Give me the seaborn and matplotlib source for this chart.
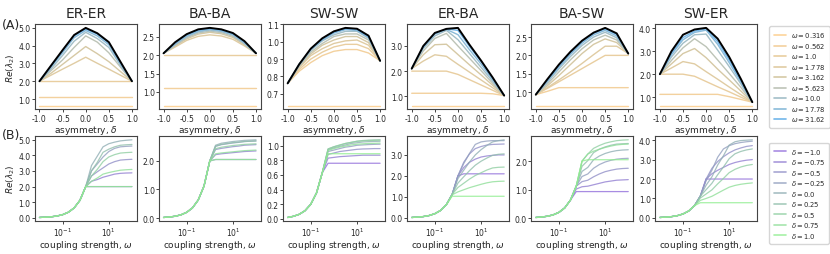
import matplotlib.pyplot as plt
import numpy as np
import pandas as pd
import seaborn as sns
from matplotlib.ticker import FormatStrFormatter, NullLocator, MultipleLocator

sns.set_theme(style="ticks")
plt.rcParams["font.family"] = ["DejaVu Sans"]

panels = ["ER-ER", "BA-BA", "SW-SW", "ER-BA", "BA-SW", "SW-ER"]
deltas = [-1.0, -0.75, -0.5, -0.25, 0.0, 0.25, 0.5, 0.75, 1.0]
omegas = [0.01, 0.0178, 0.0316, 0.0562, 0.1, 0.178, 0.316, 0.562, 1.0,
          1.778, 3.162, 5.623, 10.0, 17.78, 31.62, 56.23, 100.0]
omega_labels = ["0.316", "0.562", "1.0", "1.778", "3.162", "5.623", "10.0", "17.78", "31.62"]
top_steps = [1.0, 0.5, 0.1, 1.0, 0.5, 1.0]
bot_steps = [1.0, 1.0, 0.2, 1.0, 1.0, 1.0]

# small coupling: every delta gives the same value (omega <= 0.316)
rise = [0.02, 0.036, 0.063, 0.112, 0.2, 0.356, 0.632]

# rows: omega = 0.562 ... 100, columns: delta = -1 ... 1
er_er = [
    [1.12, 1.12, 1.12, 1.12, 1.12, 1.12, 1.12, 1.12, 1.12],
    [2.0, 2.0, 2.0, 2.0, 2.0, 2.0, 2.0, 2.0, 2.0],
    [2.0, 2.34, 2.68, 3.01, 3.35, 3.01, 2.68, 2.34, 2.0],
    [2.0, 2.45, 2.95, 3.45, 3.95, 3.55, 3.1, 2.55, 2.0],
    [2.0, 2.6, 3.2, 3.9, 4.55, 4.2, 3.6, 2.8, 2.0],
    [2.0, 2.7, 3.45, 4.25, 4.75, 4.4, 3.9, 2.9, 2.0],
    [2.0, 2.8, 3.6, 4.45, 4.85, 4.55, 4.05, 2.98, 2.0],
    [2.0, 2.85, 3.7, 4.55, 4.93, 4.65, 4.15, 3.05, 2.0],
    [2.0, 2.87, 3.73, 4.58, 4.97, 4.68, 4.18, 3.08, 2.0],
    [2.0, 2.88, 3.75, 4.6, 5.0, 4.7, 4.2, 3.1, 2.0],
]
ba_ba = [
    [1.12, 1.12, 1.12, 1.12, 1.12, 1.12, 1.12, 1.12, 1.12],
    [2.0, 2.0, 2.0, 2.0, 2.0, 2.0, 2.0, 2.0, 2.0],
    [2.05, 2.22, 2.4, 2.51, 2.55, 2.52, 2.43, 2.25, 2.05],
    [2.05, 2.25, 2.44, 2.57, 2.62, 2.58, 2.48, 2.28, 2.05],
    [2.05, 2.27, 2.47, 2.6, 2.65, 2.61, 2.51, 2.3, 2.05],
    [2.05, 2.29, 2.5, 2.63, 2.68, 2.64, 2.54, 2.32, 2.05],
    [2.05, 2.31, 2.52, 2.65, 2.7, 2.66, 2.56, 2.34, 2.05],
    [2.05, 2.33, 2.55, 2.68, 2.72, 2.68, 2.58, 2.36, 2.05],
    [2.05, 2.34, 2.56, 2.69, 2.73, 2.69, 2.59, 2.37, 2.05],
    [2.05, 2.35, 2.57, 2.7, 2.74, 2.7, 2.6, 2.38, 2.05],
]
sw_sw = [
    [0.76, 0.83, 0.88, 0.92, 0.945, 0.955, 0.955, 0.935, 0.89],
    [0.76, 0.84, 0.9, 0.94, 0.97, 0.985, 0.985, 0.96, 0.89],
    [0.76, 0.85, 0.92, 0.96, 0.99, 1.005, 1.01, 0.98, 0.89],
    [0.76, 0.855, 0.93, 0.98, 1.01, 1.03, 1.03, 0.995, 0.89],
    [0.76, 0.86, 0.94, 0.99, 1.03, 1.045, 1.045, 1.01, 0.89],
    [0.76, 0.865, 0.95, 1.005, 1.04, 1.06, 1.06, 1.02, 0.89],
    [0.76, 0.87, 0.955, 1.01, 1.05, 1.07, 1.065, 1.025, 0.89],
    [0.76, 0.87, 0.957, 1.015, 1.055, 1.075, 1.07, 1.03, 0.89],
    [0.76, 0.87, 0.96, 1.018, 1.058, 1.078, 1.073, 1.032, 0.89],
    [0.76, 0.87, 0.96, 1.02, 1.06, 1.08, 1.075, 1.035, 0.89],
]
er_ba = [
    [1.12, 1.12, 1.12, 1.12, 1.12, 1.12, 1.12, 1.1, 1.03],
    [2.0, 2.0, 2.0, 2.0, 1.87, 1.66, 1.45, 1.24, 1.03],
    [2.1, 2.4, 2.65, 2.59, 2.27, 1.96, 1.65, 1.34, 1.03],
    [2.1, 2.65, 3.05, 3.07, 2.66, 2.25, 1.85, 1.44, 1.03],
    [2.1, 2.8, 3.3, 3.5, 3.0, 2.51, 2.02, 1.52, 1.03],
    [2.1, 2.9, 3.4, 3.62, 3.25, 2.7, 2.15, 1.6, 1.03],
    [2.1, 2.95, 3.47, 3.66, 3.45, 2.85, 2.28, 1.67, 1.03],
    [2.1, 2.98, 3.5, 3.68, 3.62, 2.98, 2.38, 1.72, 1.03],
    [2.1, 3.0, 3.51, 3.68, 3.68, 3.03, 2.41, 1.74, 1.03],
    [2.1, 3.0, 3.52, 3.68, 3.72, 3.05, 2.42, 1.75, 1.03],
]
ba_sw = [
    [0.93, 1.02, 1.12, 1.12, 1.12, 1.12, 1.12, 1.12, 1.12],
    [0.93, 1.1, 1.28, 1.46, 1.64, 1.82, 2.0, 2.0, 2.0],
    [0.93, 1.12, 1.33, 1.55, 1.78, 2.02, 2.25, 2.25, 2.05],
    [0.93, 1.17, 1.45, 1.75, 2.05, 2.3, 2.45, 2.35, 2.05],
    [0.93, 1.22, 1.55, 1.88, 2.18, 2.42, 2.55, 2.42, 2.05],
    [0.93, 1.27, 1.63, 1.97, 2.27, 2.5, 2.63, 2.48, 2.05],
    [0.93, 1.3, 1.68, 2.03, 2.33, 2.56, 2.68, 2.53, 2.05],
    [0.93, 1.33, 1.72, 2.07, 2.37, 2.6, 2.72, 2.57, 2.05],
    [0.93, 1.34, 1.74, 2.09, 2.39, 2.61, 2.74, 2.59, 2.05],
    [0.93, 1.35, 1.75, 2.1, 2.4, 2.62, 2.75, 2.6, 2.05],
]
sw_er = [
    [1.12, 1.12, 1.12, 1.12, 1.12, 1.12, 1.02, 0.9, 0.78],
    [2.0, 2.0, 2.0, 1.91, 1.68, 1.45, 1.23, 1.0, 0.78],
    [2.0, 2.27, 2.55, 2.45, 2.11, 1.78, 1.44, 1.11, 0.78],
    [2.0, 2.45, 2.9, 3.12, 2.72, 2.22, 1.75, 1.27, 0.78],
    [2.0, 2.6, 3.15, 3.55, 3.2, 2.62, 2.03, 1.43, 0.78],
    [2.0, 2.75, 3.35, 3.72, 3.75, 3.05, 2.33, 1.58, 0.78],
    [2.0, 2.85, 3.5, 3.82, 3.92, 3.3, 2.5, 1.67, 0.78],
    [2.0, 2.92, 3.6, 3.88, 3.98, 3.42, 2.62, 1.73, 0.78],
    [2.0, 2.97, 3.68, 3.92, 4.0, 3.5, 2.7, 1.77, 0.78],
    [2.0, 3.0, 3.72, 3.95, 4.02, 3.55, 2.75, 1.8, 0.78],
]
tables = [er_er, ba_ba, sw_sw, er_ba, ba_sw, sw_er]

rows = []
for name, table in zip(panels, tables):
    for j, w in enumerate(omegas):
        for i, d in enumerate(deltas):
            v = rise[j] if j < len(rise) else table[j - len(rise)][i]
            rows.append((name, w, d, v))
df = pd.DataFrame(rows, columns=["panel", "omega", "delta", "value"])
df["wlab"] = df["omega"].map(lambda w: f"w{w:g}")
df["dlab"] = df["delta"].map(lambda d: f"d{d:g}")

top_levels = [f"w{float(s):g}" for s in omega_labels]
top_names = [f"$\\omega = {s}$" for s in omega_labels]
bot_levels = [f"d{d:g}" for d in deltas]
bot_names = [f"$\\delta = {d}$" for d in deltas]

top_pal = sns.blend_palette(["#fdd49b", "#d6c9a5", "#72b6ea"], 9)
bot_pal = sns.blend_palette(["mediumpurple", "lightgreen"], 9)

fig = plt.figure(figsize=(8.3, 2.55), dpi=100)
axes = fig.subplots(2, 6)
fig.subplots_adjust(left=0.042, right=0.912, top=0.902, bottom=0.128,
                    wspace=0.22, hspace=0.31)

for k, name in enumerate(panels):
    sub = df[df["panel"] == name]
    ax = axes[0, k]
    top = sub[sub["wlab"].isin(top_levels)]
    sns.lineplot(data=top, x="delta", y="value", hue="wlab", hue_order=top_levels,
                 palette=top_pal, lw=1.0, legend=False, ax=ax)
    best = sub[sub["omega"] == 100.0]
    sns.lineplot(data=best, x="delta", y="value", color="black", lw=1.4, ax=ax)
    ax.set_title(name, fontsize=10, pad=5)
    ax.set_xlabel("asymmetry, $\\delta$", fontsize=6.5, labelpad=0.5)
    ax.set_xticks([-1.0, -0.5, 0.0, 0.5, 1.0])
    ax.xaxis.set_major_formatter(FormatStrFormatter("%.1f"))
    ax.yaxis.set_major_locator(MultipleLocator(top_steps[k]))
    ax.yaxis.set_major_formatter(FormatStrFormatter("%.1f"))

    ax = axes[1, k]
    sns.lineplot(data=sub, x="omega", y="value", hue="dlab", hue_order=bot_levels,
                 palette=bot_pal, lw=0.9, alpha=0.8, legend=False, ax=ax)
    ax.set_xscale("log")
    ax.set_xticks([0.1, 10])
    ax.xaxis.set_minor_locator(NullLocator())
    ax.set_xlabel("coupling strength, $\\omega$", fontsize=6.5, labelpad=0)
    ax.yaxis.set_major_locator(MultipleLocator(bot_steps[k]))
    ax.yaxis.set_major_formatter(FormatStrFormatter("%.1f"))

for ax in axes.flat:
    ax.set_ylabel("")
    ax.tick_params(labelsize=5.5, length=2, width=0.6, pad=1)
    for s in ax.spines.values():
        s.set_linewidth(0.8)
        s.set_color("#444444")

axes[0, 0].set_ylabel("$Re(\\lambda_2)$", fontsize=6.5, labelpad=1)
axes[1, 0].set_ylabel("$Re(\\lambda_2)$", fontsize=6.5, labelpad=1)

leg_kw = dict(loc="upper left", fontsize=4.9, handlelength=1.8, handletextpad=0.7,
              labelspacing=0.22, borderpad=0.6, frameon=True)
th = [plt.Line2D([], [], color=c, lw=1.2) for c in top_pal]
fig.legend(th, top_names, bbox_to_anchor=(0.923, 0.906), **leg_kw)
bh = [plt.Line2D([], [], color=c, lw=1.2, alpha=0.8) for c in bot_pal]
fig.legend(bh, bot_names, bbox_to_anchor=(0.923, 0.45), **leg_kw)

fig.text(0.002, 0.888, "(A)", fontsize=9)
fig.text(0.002, 0.455, "(B)", fontsize=9)

fig.savefig("out.png", dpi=100)
